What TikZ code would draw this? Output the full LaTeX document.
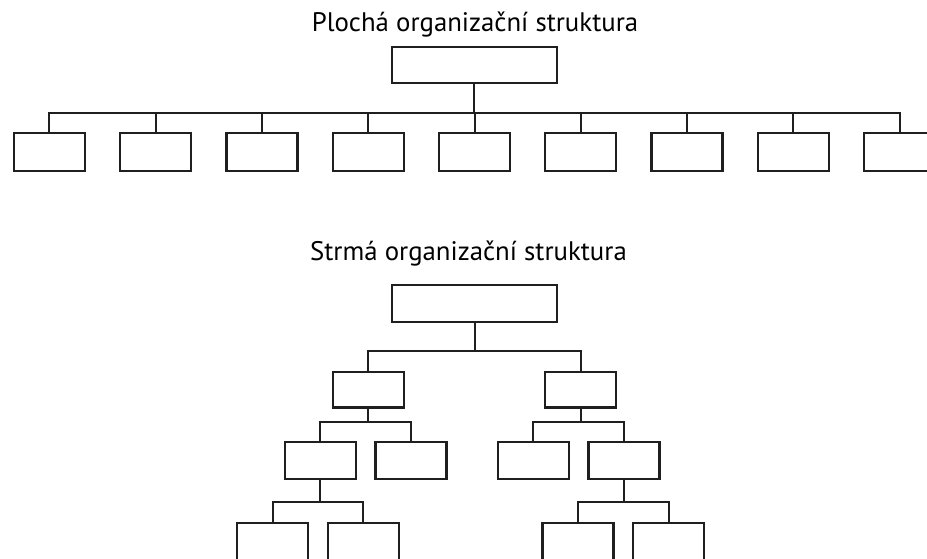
\documentclass[tikz,border=0pt]{standalone}
\usepackage{fontspec}
\setmainfont{PT Sans}
\begin{document}
\begin{tikzpicture}[x=1pt,y=-1pt,
  box/.style={draw=black!88,line width=2.3pt,rectangle,inner sep=0pt,minimum width=71pt,minimum height=37pt},
  bigbox/.style={box,minimum width=165pt,minimum height=36pt},
  conn/.style={draw=black!88,line width=2pt},
  title/.style={font=\fontsize{26.8}{30}\selectfont,text=black,inner sep=0pt,anchor=base}]
\useasboundingbox (0,0) rectangle (927,559);
\clip (0,0) rectangle (927,559);
% ---------- flat structure ----------
\node[title] (t1) at (475,31.5) {Plochá organizační struktura};
\node[bigbox] (ft) at (474.3,65) {};
\coordinate (fbar) at (474.3,112.7);
\foreach \i in {1,...,9}{
  \node[box,minimum height=37.5pt] (f\i) at ({49.3+106.3*(\i-1)},152) {};
}
\draw[conn] (ft.south) -- (fbar);
\draw[conn] (f1.north) -- (f1.north |- fbar) -- (f9.north |- fbar) -- (f9.north);
\foreach \i in {2,...,8}{
  \draw[conn] (f\i.north) -- (f\i.north |- fbar);
}
% ---------- steep structure ----------
\node[title] (t2) at (468.5,260.5) {Strmá organizační struktura};
\node[bigbox,minimum height=37pt] (st) at (474.5,303.2) {};
\node[box,minimum height=35.3pt] (a) at (368.2,389.7) {};
\node[box,minimum height=35.3pt] (b) at (580.7,389.7) {};
\coordinate (sbar) at (474.5,350.7);
\draw[conn] (st.south) -- (sbar);
\draw[conn] (a.north) -- (a.north |- sbar) -- (b.north |- sbar) -- (b.north);
% level 3
\node[box] (aa) at (320.2,460.8) {};
\node[box] (ab) at (411,460.8) {};
\node[box] (ba) at (533.2,460.8) {};
\node[box] (bb) at (624,460.8) {};
\coordinate (abar) at (368.2,421.7);
\coordinate (bbar) at (580.7,421.7);
\draw[conn] (a.south) -- (abar);
\draw[conn] (aa.north) -- (aa.north |- abar) -- (ab.north |- abar) -- (ab.north);
\draw[conn] (b.south) -- (bbar);
\draw[conn] (ba.north) -- (ba.north |- bbar) -- (bb.north |- bbar) -- (bb.north);
% level 4
\node[box,minimum height=42pt] (aaa) at (272.7,543.7) {};
\node[box,minimum height=42pt] (aab) at (363.3,543.7) {};
\node[box,minimum height=42pt] (bba) at (578,543.7) {};
\node[box,minimum height=42pt] (bbb) at (668.5,543.7) {};
\coordinate (aabar) at (320.2,501.7);
\coordinate (bbbar) at (624,501.7);
\draw[conn] (aa.south) -- (aabar);
\draw[conn] (aaa.north) -- (aaa.north |- aabar) -- (aab.north |- aabar) -- (aab.north);
\draw[conn] (bb.south) -- (bbbar);
\draw[conn] (bba.north) -- (bba.north |- bbbar) -- (bbb.north |- bbbar) -- (bbb.north);
\end{tikzpicture}
\end{document}
